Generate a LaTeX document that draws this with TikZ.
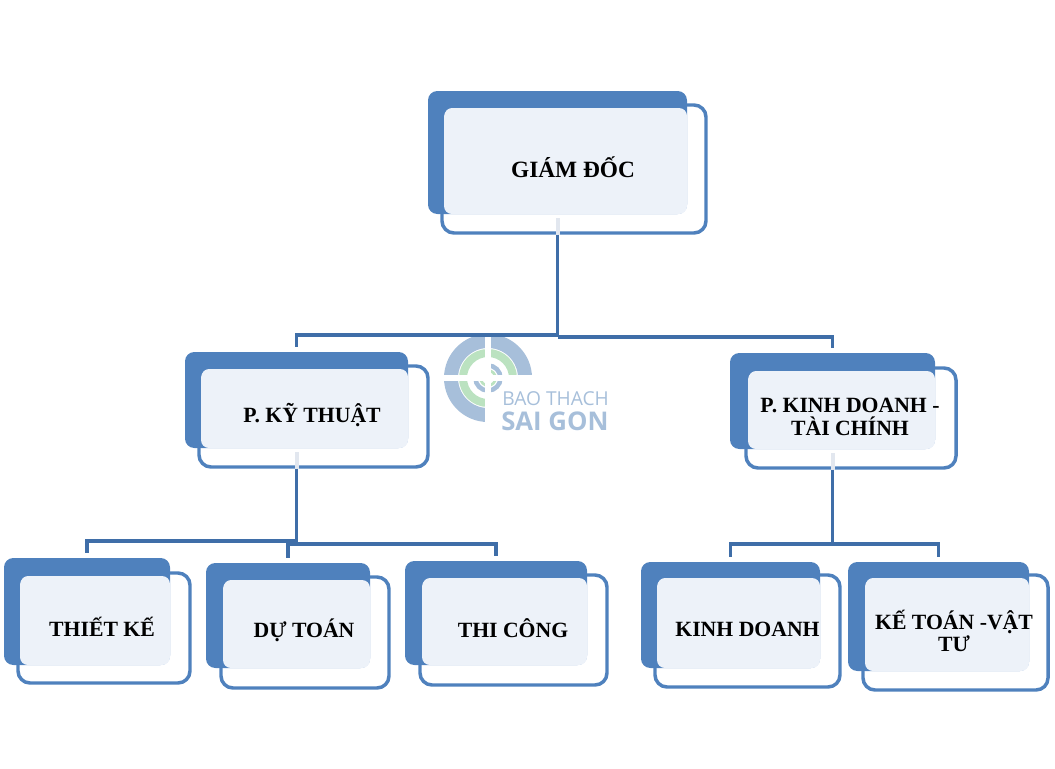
\documentclass[tikz,border=0pt]{standalone}
\usepackage{fontspec}
\setmainfont{Liberation Serif}
\newfontfamily\markfont{Open Sans}
\usetikzlibrary{calc,fit,positioning}
\definecolor{boxblue}{HTML}{4F81BD}
\definecolor{boxpale}{HTML}{EDF2F9}
\definecolor{linkblue}{HTML}{3F6EA8}
\definecolor{stubgrey}{HTML}{E2E7EF}
\definecolor{markblue}{HTML}{A7BFDA}
\definecolor{markgreen}{HTML}{BBE2C0}
\tikzset{
	backbox/.style = {rectangle, fill=boxblue, rounded corners=7pt, inner sep=0pt},
	palebox/.style = {rectangle, fill=boxpale, rounded corners=6pt, inner sep=0pt},
	frontbox/.style = {rectangle, draw=boxblue, line width=2.6pt, rounded corners=9pt, inner sep=0pt},
	boxtext/.style = {align=center, font=\fontsize{16.3}{16.8}\selectfont\bfseries, text=black, inner sep=0pt},
	link/.style = {draw=linkblue, line width=2.4pt},
	linkend/.style = {link, shorten >=3.5pt},
	stub/.style = {draw=stubgrey, line width=3pt},
	markring/.style = {draw=markblue, line width=10.5pt},
	markgreenring/.style = {draw=markgreen, line width=6pt},
	marktext/.style = {text=markblue, inner sep=0pt}
}

\begin{document}
\begin{tikzpicture}[x=0.75pt, y=-0.75pt]
		\useasboundingbox (0, 0) rectangle (1055, 768);
		
		% Watermark
		\coordinate (mark) at (488, 378);
		\draw[markring] ($(mark)+(-37, 0)$) arc[start angle=180, end angle=0, radius=27.75pt];
		\draw[markring] ($(mark)+(-37, 0)$) arc[start angle=180, end angle=270, radius=27.75pt];
		\draw[markgreenring] ($(mark)+(-25, 0)$) arc[start angle=180, end angle=0, radius=18.75pt];
		\draw[markgreenring] ($(mark)+(-25, 0)$) arc[start angle=180, end angle=270, radius=18.75pt];
		\draw[markblue, line width=3.4pt] ($(mark)+(12.5, 0)$) arc[start angle=0, end angle=90, radius=9.4pt];
		\draw[markblue, line width=3.4pt] ($(mark)+(12.5, 0)$) arc[start angle=0, end angle=-180, radius=9.4pt];
		\draw[markgreen, line width=2pt] ($(mark)+(7.5, 0)$) arc[start angle=0, end angle=90, radius=5.6pt];
		\draw[markgreen, line width=2pt] ($(mark)+(7.5, 0)$) arc[start angle=0, end angle=-180, radius=5.6pt];
		\fill[white] (485, 330) rectangle (491, 425);
		\fill[white] (440, 375) rectangle (535, 381);
		\node[marktext, anchor=west] (markone) at (502, 399) {\markfont\fontsize{14.4}{14.4}\selectfont BAO THACH};
		\node[marktext, anchor=west] (marktwo) at (501, 421) {\markfont\fontsize{19.3}{19.3}\selectfont\bfseries SAI GON};
		
		% Director
		\node[backbox, fit={(428, 91) (687, 214)}] (gdback) {};
		\node[palebox, fit={(444, 108) (687, 214)}] (gdfill) {};
		\node[frontbox, fit={(442, 105) (706, 233)}] (gd) {};
		\node[boxtext, font=\fontsize{17.5}{18}\selectfont\bfseries] (gdtext) at (573, 167) {GIÁM ĐỐC};
		
		% Departments
		\node[backbox, fit={(185, 352) (408, 448)}] (techback) {};
		\node[palebox, fit={(201, 369) (408, 448)}] (techfill) {};
		\node[frontbox, fit={(199, 366) (428, 467)}] (tech) {};
		\node[boxtext] (techtext) at (312, 415) {P. KỸ THUẬT};
		
		\node[backbox, fit={(730, 353) (935, 449)}] (bizback) {};
		\node[palebox, fit={(748, 371) (935, 449)}] (bizfill) {};
		\node[frontbox, fit={(746, 368) (956, 468)}] (biz) {};
		\node[boxtext] (biztext) at (850, 417) {P. KINH DOANH -\\ TÀI CHÍNH};
		
		% Sections
		\node[backbox, fit={(4, 558) (170, 665)}] (designback) {};
		\node[palebox, fit={(20, 576) (170, 665)}] (designfill) {};
		\node[frontbox, fit={(18, 573) (190, 683)}] (design) {};
		\node[boxtext] (designtext) at (102, 627) {THIẾT KẾ};
		
		\node[backbox, fit={(206, 563) (370, 668)}] (costback) {};
		\node[palebox, fit={(223, 580) (370, 668)}] (costfill) {};
		\node[frontbox, fit={(221, 577) (389, 688)}] (cost) {};
		\node[boxtext] (costtext) at (304, 630) {DỰ TOÁN};
		
		\node[backbox, fit={(405, 561) (587, 665)}] (buildback) {};
		\node[palebox, fit={(422, 578) (587, 665)}] (buildfill) {};
		\node[frontbox, fit={(420, 575) (607, 685)}] (build) {};
		\node[boxtext] (buildtext) at (513, 628) {THI CÔNG};
		
		\node[backbox, fit={(641, 562) (820, 668)}] (salesback) {};
		\node[palebox, fit={(657, 578) (820, 668)}] (salesfill) {};
		\node[frontbox, fit={(655, 575) (840, 687)}] (sales) {};
		\node[boxtext] (salestext) at (747.5, 629) {KINH DOANH};
		
		\node[backbox, fit={(848, 562) (1029, 671)}] (acctback) {};
		\node[palebox, fit={(865, 578) (1029, 671)}] (acctfill) {};
		\node[frontbox, fit={(863, 575) (1048, 690)}] (acct) {};
		\node[boxtext] (accttext) at (954, 631) {KẾ TOÁN -VẬT\\ TƯ};
		
		% Junctions
		\coordinate (gdleft) at (gdback.south |- 0, 335);
		\coordinate (gdright) at (gdback.south |- 0, 337);
		\coordinate (techleft) at (techback.south |- 0, 541);
		\coordinate (techright) at (techback.south |- 0, 544);
		\coordinate (bizjoin) at (bizback.south |- 0, 544);
		
		% Connectors
		\draw[stub] ([yshift=-3pt]gdback.south) -- (gdback.south |- gd.south);
		\draw[stub] ([yshift=-3pt]techback.south) -- (techback.south |- tech.south);
		\draw[stub] ([yshift=-3pt]bizback.south) -- (bizback.south |- biz.south);
		\draw[link] (gdback.south |- gd.south) -- (gdright);
		\draw[linkend] (gdleft) -| (techback.north);
		\draw[linkend] (gdright) -| (bizback.north);
		\draw[link] (techback.south |- tech.south) -- (techright);
		\draw[linkend] (techleft) -| (designback.north);
		\draw[linkend] (techright) -| (costback.north);
		\draw[linkend] (techright) -| (buildback.north);
		\draw[link] (bizback.south |- biz.south) -- (bizjoin);
		\draw[linkend] (bizjoin) -| (salesback.north);
		\draw[linkend] (bizjoin) -| (acctback.north);
\end{tikzpicture}
\end{document}
